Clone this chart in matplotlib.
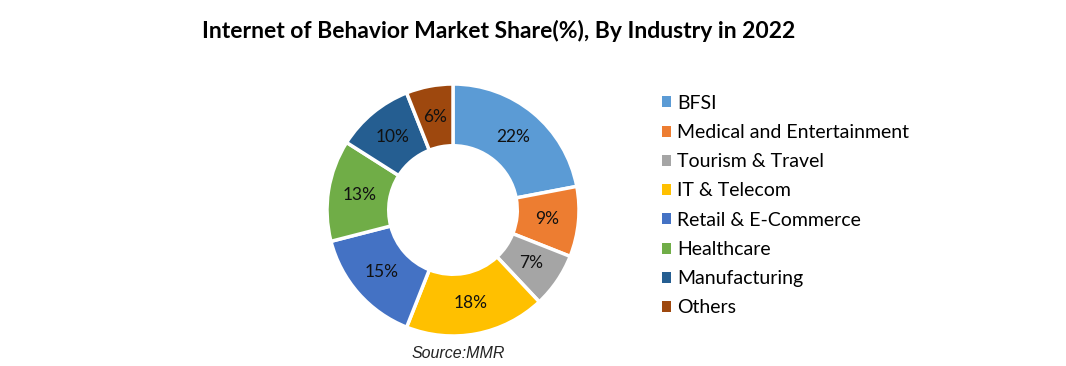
import matplotlib.pyplot as plt
from matplotlib.patches import Patch

industries = ['BFSI', 'Medical and Entertainment', 'Tourism & Travel', 'IT & Telecom',
              'Retail & E-Commerce', 'Healthcare', 'Manufacturing', 'Others']
shares = [22, 9, 7, 18, 15, 13, 10, 6]
colors = ['#5B9BD5', '#ED7D31', '#A5A5A5', '#FFC000', '#4472C4', '#70AD47', '#255E91', '#9E480E']

plt.rcParams['font.family'] = ['Lato', 'DejaVu Sans']

fig = plt.figure(figsize=(10.66, 3.66), dpi=100)
W, H = 1066, 366
cx, cy, r = 453, 210, 126
ax = fig.add_axes([(cx - r) / W, (H - cy - r) / H, 2 * r / W, 2 * r / H])

wedges, texts, autotexts = ax.pie(
    shares, colors=colors, startangle=90, counterclock=False, radius=1,
    autopct='%d%%', pctdistance=0.75,
    wedgeprops=dict(width=0.49, edgecolor='white', linewidth=2.5),
    textprops=dict(fontsize=12.5, color='#111111'))
ax.set_xlim(-1, 1)
ax.set_ylim(-1, 1)
ax.set_aspect('equal')
ax.axis('off')

fig.text(499 / W, 1 - 31 / H, 'Internet of Behavior Market Share(%), By Industry in 2022',
         ha='center', va='center', fontsize=16.5, fontweight='bold')
fig.text(458 / W, 1 - 353 / H, 'Source:MMR', ha='center', va='center',
         fontsize=11.5, style='italic', family=['Liberation Sans', 'DejaVu Sans'], color='#222222')

handles = [Patch(facecolor=c, edgecolor='none') for c in colors]
fig.legend(handles, industries, loc='upper left', bbox_to_anchor=(652 / W, 1 - 85 / H),
           frameon=False, fontsize=14, handlelength=0.5, handleheight=0.5,
           handletextpad=0.3, labelspacing=0.63, borderpad=0)

fig.savefig('out.png', dpi=100)
